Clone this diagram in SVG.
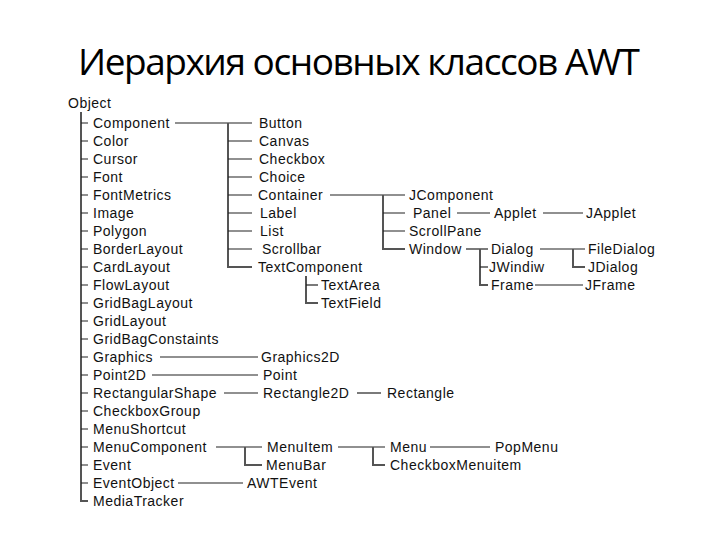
<svg xmlns="http://www.w3.org/2000/svg" width="720" height="540" viewBox="0 0 720 540">
<style>
.t{font-family:"Liberation Sans",Arial,sans-serif;font-size:14px;letter-spacing:0.5px;fill:#111}
.h{stroke:#222;stroke-width:1.2;fill:none}
.v{stroke:#555;stroke-width:2;fill:none}
.title{font-family:"Open Sans","Noto Sans",sans-serif;font-size:37px;fill:#000}
</style>
<rect width="720" height="540" fill="#fff"/>
<text class="title" x="78" y="75" textLength="562" lengthAdjust="spacing">Иерархия основных классов AWT</text>
<g id="connectors">
<path class="v" d="M81 112V501H88"/>
<path class="h" d="M81 123H88M81 141H88M81 159H88M81 177H88M81 195H88M81 213H88M81 231H88M81 249H88M81 267H88M81 285H88M81 303H88M81 321H88M81 339H88M81 357H88M81 375H88M81 393H88M81 411H88M81 429H88M81 447H88M81 465H88M81 483H88"/>
<path class="h" d="M175 123H252"/>
<path class="v" d="M228 123V267H252"/>
<path class="h" d="M228 141H252M228 159H252M228 177H252M228 195H252M228 213H252M228 231H252M228 249H252"/>
<path class="v" d="M306 276V303H318"/>
<path class="h" d="M306 285H318"/>
<path class="h" d="M330 195H405"/>
<path class="v" d="M383 195V249H405"/>
<path class="h" d="M383 213H405M383 231H405"/>
<path class="h" d="M457 213H490"/>
<path class="h" d="M543 213H583"/>
<path class="h" d="M466 249H488"/>
<path class="v" d="M480 249V285H488"/>
<path class="h" d="M480 267H488"/>
<path class="h" d="M540 249H585"/>
<path class="v" d="M573 249V267H585"/>
<path class="h" d="M535 285H583"/>
<path class="h" d="M160 357H258"/>
<path class="h" d="M152 375H258"/>
<path class="h" d="M224 393H258"/>
<path class="h" d="M357 393H381"/>
<path class="h" d="M216 447H262"/>
<path class="v" d="M245 447V465H262"/>
<path class="h" d="M338 447H385"/>
<path class="v" d="M373 447V465H385"/>
<path class="h" d="M430 447H490"/>
<path class="h" d="M178 483H243"/>
</g>
<g id="n-object"><text class="t" x="68" y="108">Object</text></g>
<g id="n-component"><text class="t" x="93" y="128">Component</text></g>
<g id="n-color"><text class="t" x="93" y="146">Color</text></g>
<g id="n-cursor"><text class="t" x="93" y="164">Cursor</text></g>
<g id="n-font"><text class="t" x="93" y="182">Font</text></g>
<g id="n-fontmetrics"><text class="t" x="93" y="200">FontMetrics</text></g>
<g id="n-image"><text class="t" x="93" y="218">Image</text></g>
<g id="n-polygon"><text class="t" x="93" y="236">Polygon</text></g>
<g id="n-borderlayout"><text class="t" x="93" y="254">BorderLayout</text></g>
<g id="n-cardlayout"><text class="t" x="93" y="272">CardLayout</text></g>
<g id="n-flowlayout"><text class="t" x="93" y="290">FlowLayout</text></g>
<g id="n-gridbaglayout"><text class="t" x="93" y="308">GridBagLayout</text></g>
<g id="n-gridlayout"><text class="t" x="93" y="326">GridLayout</text></g>
<g id="n-gridbagconstaints"><text class="t" x="93" y="344">GridBagConstaints</text></g>
<g id="n-graphics"><text class="t" x="93" y="362">Graphics</text></g>
<g id="n-point2d"><text class="t" x="93" y="380">Point2D</text></g>
<g id="n-rectangularshape"><text class="t" x="93" y="398">RectangularShape</text></g>
<g id="n-checkboxgroup"><text class="t" x="93" y="416">CheckboxGroup</text></g>
<g id="n-menushortcut"><text class="t" x="93" y="434">MenuShortcut</text></g>
<g id="n-menucomponent"><text class="t" x="93" y="452">MenuComponent</text></g>
<g id="n-event"><text class="t" x="93" y="470">Event</text></g>
<g id="n-eventobject"><text class="t" x="93" y="488">EventObject</text></g>
<g id="n-mediatracker"><text class="t" x="93" y="506">MediaTracker</text></g>
<g id="n-button"><text class="t" x="259" y="128">Button</text></g>
<g id="n-canvas"><text class="t" x="259" y="146">Canvas</text></g>
<g id="n-checkbox"><text class="t" x="259" y="164">Checkbox</text></g>
<g id="n-choice"><text class="t" x="259" y="182">Choice</text></g>
<g id="n-container"><text class="t" x="258" y="200">Container</text></g>
<g id="n-label"><text class="t" x="260" y="218">Label</text></g>
<g id="n-list"><text class="t" x="260" y="236">List</text></g>
<g id="n-scrollbar"><text class="t" x="262" y="254">Scrollbar</text></g>
<g id="n-textcomponent"><text class="t" x="258" y="272">TextComponent</text></g>
<g id="n-textarea"><text class="t" x="321" y="290">TextArea</text></g>
<g id="n-textfield"><text class="t" x="321" y="308">TextField</text></g>
<g id="n-jcomponent"><text class="t" x="409" y="200">JComponent</text></g>
<g id="n-panel"><text class="t" x="413" y="218">Panel</text></g>
<g id="n-scrollpane"><text class="t" x="409" y="236">ScrollPane</text></g>
<g id="n-window"><text class="t" x="409" y="254">Window</text></g>
<g id="n-applet"><text class="t" x="494" y="218">Applet</text></g>
<g id="n-japplet"><text class="t" x="586" y="218">JApplet</text></g>
<g id="n-dialog"><text class="t" x="491" y="254">Dialog</text></g>
<g id="n-jwindiw"><text class="t" x="489" y="272">JWindiw</text></g>
<g id="n-frame"><text class="t" x="491" y="290">Frame</text></g>
<g id="n-filedialog"><text class="t" x="588" y="254">FileDialog</text></g>
<g id="n-jdialog"><text class="t" x="588" y="272">JDialog</text></g>
<g id="n-jframe"><text class="t" x="585" y="290">JFrame</text></g>
<g id="n-graphics2d"><text class="t" x="261" y="362">Graphics2D</text></g>
<g id="n-point"><text class="t" x="263" y="380">Point</text></g>
<g id="n-rectangle2d"><text class="t" x="263" y="398">Rectangle2D</text></g>
<g id="n-rectangle"><text class="t" x="387" y="398">Rectangle</text></g>
<g id="n-menuitem"><text class="t" x="267" y="452">MenuItem</text></g>
<g id="n-menubar"><text class="t" x="266" y="470">MenuBar</text></g>
<g id="n-menu"><text class="t" x="390" y="452">Menu</text></g>
<g id="n-checkboxmenuitem"><text class="t" x="390" y="470">CheckboxMenuitem</text></g>
<g id="n-popmenu"><text class="t" x="495" y="452">PopMenu</text></g>
<g id="n-awtevent"><text class="t" x="247" y="488">AWTEvent</text></g>
</svg>
